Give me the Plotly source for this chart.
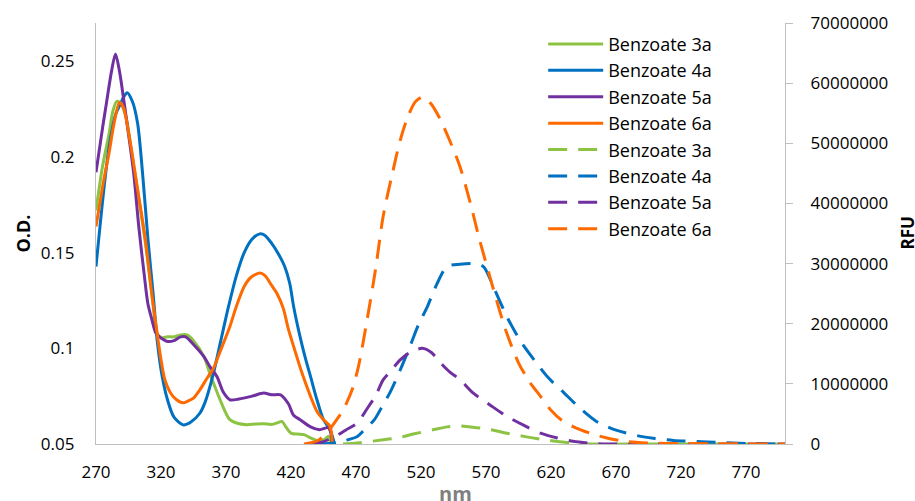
import plotly.graph_objects as go

# ---------------- data: absorbance (O.D., left axis) ----------------
abs_3a_nm = [270, 275, 280, 283, 286, 289, 293, 298, 303, 308, 313, 317, 320, 325, 330, 335, 340, 345, 353, 358, 362, 366,
             370, 373, 378, 386, 393, 399, 405, 410, 413, 416, 420, 425, 430, 435, 442, 446, 449, 451]
abs_3a_od = [0.172, 0.195, 0.212, 0.224, 0.229, 0.228, 0.221, 0.200, 0.178, 0.155, 0.128, 0.108, 0.1055, 0.106, 0.106,
             0.107, 0.107, 0.104, 0.0957, 0.086, 0.079, 0.0722, 0.066, 0.0627, 0.0610, 0.0601, 0.0605, 0.0606, 0.0602,
             0.0612, 0.0618, 0.059, 0.0557, 0.0552, 0.0549, 0.0532, 0.0514, 0.0525, 0.054, 0.046]

abs_4a_nm = [270, 276, 280, 285, 289, 291, 294, 298, 302, 306, 310, 314, 317, 321, 325, 330, 337, 343, 350, 354, 360, 366,
             372, 378, 384, 390, 396, 400, 405, 410, 415, 419, 422, 427, 431, 435, 440, 445, 450, 455]
abs_4a_od = [0.1427, 0.1828, 0.205, 0.222, 0.228, 0.231, 0.2336, 0.229, 0.2176, 0.190, 0.1567, 0.128, 0.1045, 0.085,
             0.0731, 0.064, 0.060, 0.0615, 0.0662, 0.072, 0.086, 0.104, 0.122, 0.138, 0.150, 0.157, 0.1598, 0.159,
             0.155, 0.1497, 0.143, 0.134, 0.1219, 0.106, 0.095, 0.0853, 0.073, 0.0627, 0.0575, 0.046]

abs_5a_nm = [270, 275, 278, 282, 285, 288, 291, 295, 299, 303, 307, 310, 313, 316, 320, 325, 330, 335, 339, 345, 353, 358,
             363, 368, 373, 380, 390, 399, 405, 412, 418, 422, 427, 435, 442, 449, 452]
abs_5a_od = [0.192, 0.215, 0.228, 0.245, 0.2538, 0.245, 0.2315, 0.212, 0.1915, 0.163, 0.139, 0.123, 0.115, 0.108,
             0.1054, 0.1036, 0.104, 0.106, 0.106, 0.102, 0.0957, 0.090, 0.0853, 0.077, 0.0731, 0.0735, 0.075, 0.0766,
             0.0757, 0.0757, 0.071, 0.065, 0.0627, 0.059, 0.0575, 0.0584, 0.046]

abs_6a_nm = [270, 276, 280, 284, 288, 291, 296, 302, 308, 313, 317, 320, 323, 328, 332, 337, 340, 345, 350, 356, 360, 366,
             373, 378, 384, 389, 396, 400, 405, 409, 414, 418, 422, 428, 435, 440, 445, 450, 452]
abs_6a_od = [0.1636, 0.188, 0.202, 0.218, 0.2284, 0.226, 0.209, 0.183, 0.1567, 0.128, 0.108, 0.094, 0.0836, 0.076,
             0.0731, 0.0715, 0.0722, 0.074, 0.0784, 0.085, 0.089, 0.0992, 0.1114, 0.122, 0.1323, 0.137, 0.1393, 0.138,
             0.133, 0.1289, 0.121, 0.110, 0.101, 0.088, 0.0749, 0.067, 0.0627, 0.0592, 0.046]

# ---------------- data: fluorescence (RFU, right axis) ----------------
em_3a_nm = [460, 471, 491, 504, 515, 530, 540, 548, 560, 573, 586, 599, 612, 625, 637, 650, 700, 750, 800]
em_3a_rfu = [0, 170000, 700000, 1100000, 1700000, 2400000, 2850000, 3000000, 2800000, 2400000, 1800000, 1270000,
             800000, 430000, 150000, 0, 0, 0, 0]

em_4a_nm = [440, 454, 462, 471, 477, 484, 490, 496, 504, 512, 518, 525, 532, 540, 550, 560, 568, 576, 586, 596, 607,
            618, 630, 642, 655, 670, 689, 700, 714, 740, 770, 800]
em_4a_rfu = [0, 170000, 600000, 1260000, 2500000, 4000000, 6200000, 8500000, 12300000, 16500000, 19800000, 22900000,
             26500000, 29500000, 29900000, 30000000, 29500000, 26000000, 21200000, 17300000, 14000000, 11000000,
             8500000, 6000000, 3750000, 2300000, 1270000, 900000, 600000, 330000, 100000, 0]

em_5a_nm = [435, 445, 454, 462, 471, 478, 485, 491, 497, 504, 512, 521, 528, 535, 542, 550, 560, 573, 586, 600, 612,
            625, 637, 650, 663, 700, 750, 800]
em_5a_rfu = [0, 400000, 1260000, 2300000, 3500000, 5700000, 8000000, 10700000, 12200000, 14000000, 15300000,
             15900000, 15200000, 13500000, 12000000, 10700000, 8500000, 6500000, 4600000, 3000000, 1800000, 1000000,
             450000, 150000, 0, 0, 0, 0]

em_6a_nm = [430, 440, 445, 450, 455, 460, 467, 472, 478, 485, 491, 498, 504, 510, 516, 522, 528, 535, 542, 550, 558,
            565, 573, 580, 586, 595, 603, 612, 620, 628, 637, 650, 663, 675, 690, 710, 740, 770, 800]
em_6a_rfu = [0, 500000, 1300000, 2500000, 4000000, 5600000, 9000000, 13000000, 20000000, 29000000, 38000000,
             45000000, 50500000, 54500000, 57000000, 57700000, 56500000, 53900000, 50500000, 46100000, 40000000,
             34000000, 27800000, 22500000, 18400000, 13500000, 10500000, 7900000, 5600000, 4000000, 2900000, 1800000,
             1000000, 500000, 200000, 100000, 50000, 20000, 0]

names = ["Benzoate 3a", "Benzoate 4a", "Benzoate 5a", "Benzoate 6a"]
colors = ["#8DC343", "#0070C0", "#7030A0", "#FF6A00"]

x_ticks = list(range(270, 800, 50))
od_ticks = [0.05, 0.1, 0.15, 0.2, 0.25]
od_ticktext = ["0.05", "0.1", "0.15", "0.2", "0.25"]
rfu_ticks = list(range(0, 70000001, 10000000))

FONT = "Open Sans"

fig = go.Figure()
abs_sets = [(abs_3a_nm, abs_3a_od), (abs_4a_nm, abs_4a_od), (abs_5a_nm, abs_5a_od), (abs_6a_nm, abs_6a_od)]
em_sets = [(em_3a_nm, em_3a_rfu), (em_4a_nm, em_4a_rfu), (em_5a_nm, em_5a_rfu), (em_6a_nm, em_6a_rfu)]

for (x, y), n, c in zip(abs_sets, names, colors):
    fig.add_trace(go.Scatter(x=x, y=y, name=n, mode="lines",
                             line=dict(color=c, width=3, shape="spline", smoothing=0.8),
                             yaxis="y"))
for (x, y), n, c in zip(em_sets, names, colors):
    fig.add_trace(go.Scatter(x=x, y=y, name=n, mode="lines",
                             line=dict(color=c, width=3, dash="19px,11px", shape="spline", smoothing=0.8),
                             yaxis="y2"))

axis_grey = "#BFBFBF"
fig.update_layout(
    width=915, height=501,
    margin=dict(l=96, r=130, t=23, b=57),
    paper_bgcolor="white", plot_bgcolor="white",
    font=dict(family=FONT, size=17, color="#000000"),
    showlegend=True,
    legend=dict(x=0.649, y=0.9935, xanchor="left", yanchor="top",
                bgcolor="rgba(0,0,0,0)", font=dict(size=18, color="#000000"),
                itemwidth=55, tracegroupgap=0),
    xaxis=dict(range=[270, 800], tickvals=x_ticks,
               showline=True, linecolor=axis_grey, linewidth=1.3,
               showgrid=False, zeroline=False, ticks="", ticklabelstandoff=12),
    yaxis=dict(range=[0.05, 0.27], tickvals=od_ticks, ticktext=od_ticktext,
               showline=True, linecolor=axis_grey, linewidth=1.3,
               showgrid=False, zeroline=False, ticks="", ticklabelstandoff=17),
    yaxis2=dict(range=[0, 70000000], tickvals=rfu_ticks,
                ticktext=[str(v) for v in rfu_ticks],
                overlaying="y", side="right", anchor="x",
                showline=True, linecolor=axis_grey, linewidth=1.3,
                showgrid=False, zeroline=False, ticks="outside", ticklen=7,
                tickcolor=axis_grey, tickwidth=1.3, ticklabelstandoff=14),
    annotations=[
        dict(text="<b>O.D.</b>", xref="paper", yref="paper", x=-0.1074, y=0.5,
             textangle=-90, showarrow=False, font=dict(size=18, color="#000000"),
             xanchor="center", yanchor="middle"),
        dict(text="<b>RFU</b>", xref="paper", yref="paper", x=1.1785, y=0.5024,
             textangle=-90, showarrow=False, font=dict(size=17, color="#000000"),
             xanchor="center", yanchor="middle"),
        dict(text="<b>nm</b>", xref="paper", yref="paper", x=0.5213, y=-0.117,
             showarrow=False, font=dict(size=20, color="#808080"),
             xanchor="center", yanchor="middle"),
    ],
)

fig.write_html("out.html", config={"displayModeBar": False},
               post_script="document.body.style.margin='0px';")
